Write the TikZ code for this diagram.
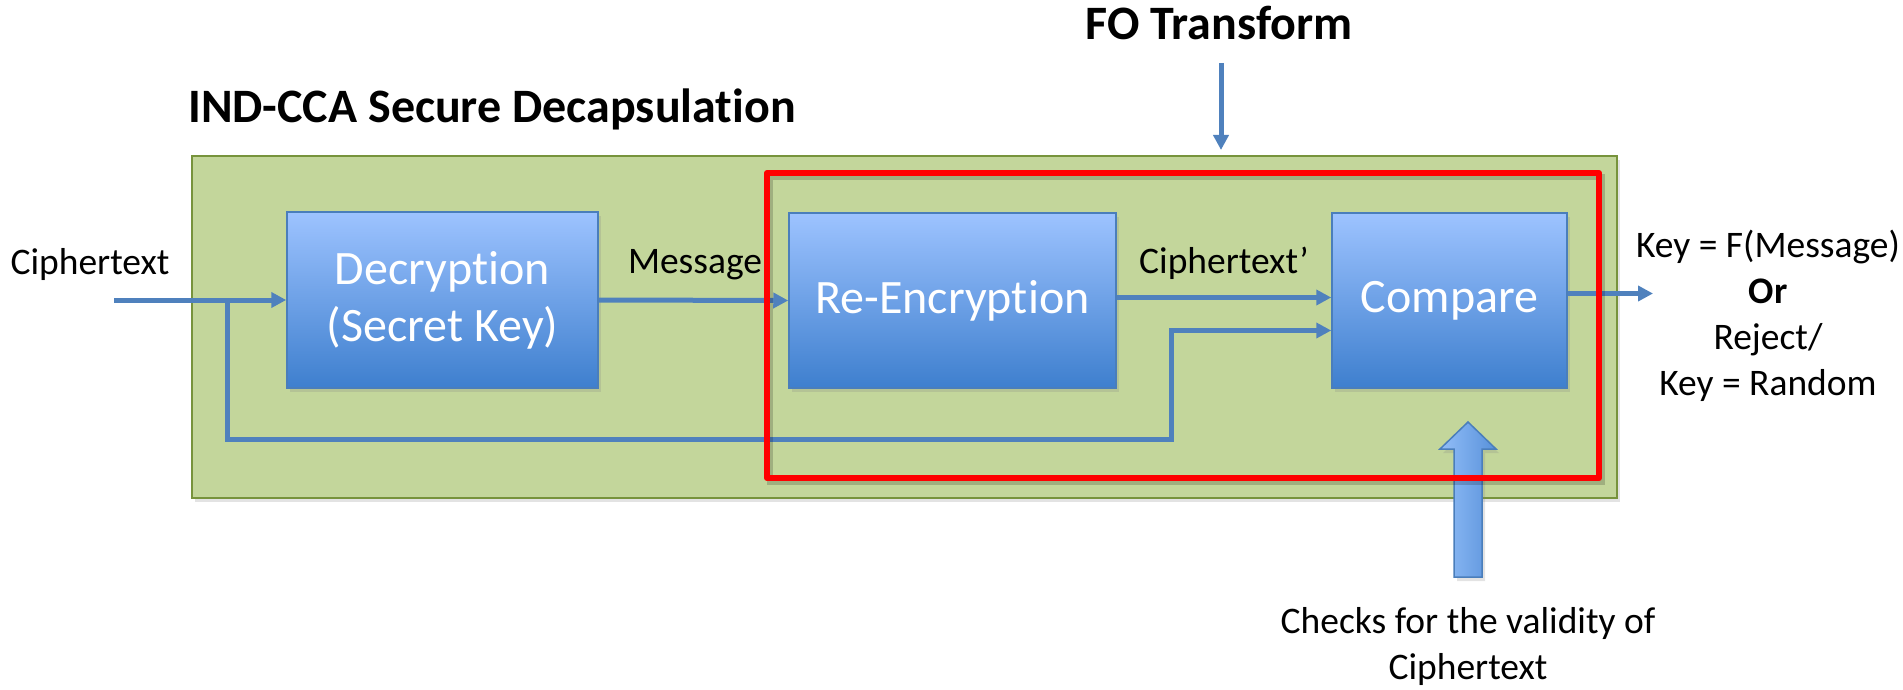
\documentclass[tikz,border=0pt]{standalone}
\usepackage{fontspec}
\setmainfont{Carlito}[Ligatures=NoCommon]
\usetikzlibrary{arrows.meta,shadows,calc}

\definecolor{panelfill}{RGB}{195,214,155}
\definecolor{paneledge}{RGB}{119,147,60}
\definecolor{flowblue}{RGB}{79,129,189}
\definecolor{boxtop}{RGB}{157,195,255}
\definecolor{boxmid}{RGB}{128,176,240}
\definecolor{boxbot}{RGB}{62,127,206}
\definecolor{boxedge}{RGB}{74,126,187}
\definecolor{hintleft}{RGB}{146,190,248}
\definecolor{hintright}{RGB}{88,145,218}

\begin{document}
\begin{tikzpicture}[x=1pt,y=-1pt,
  softshadow/.style={drop shadow={opacity=0.22,shadow xshift=3pt,shadow yshift=-4pt}},
  panel/.style={fill=panelfill,draw=paneledge,line width=2pt,softshadow},
  stage/.style={rectangle,draw=boxedge,line width=1.5pt,
    top color=boxtop,middle color=boxmid,bottom color=boxbot,
    text=white,font=\fontsize{48}{57}\selectfont,align=center,
    inner sep=0pt,softshadow},
  flow/.style={draw=flowblue,line width=5pt,
    -{Triangle[length=15pt,width=15pt]}},
  redframe/.style={draw=red,line width=6pt,line join=round,
    preaction={draw=black,draw opacity=0.18,line width=6pt,
      transform canvas={shift={(2.5pt,-3.5pt)}}}},
  hint/.style={draw=boxedge,line width=1.5pt,left color=hintleft,right color=hintright,softshadow},
  caption/.style={inner sep=0pt,font=\fontsize{37.5}{46}\selectfont},
  heading/.style={inner sep=0pt,font=\bfseries\fontsize{48}{57}\selectfont}
]
\useasboundingbox (0,0) rectangle (1903,690);

% decapsulation panel
\path[panel] (192,156) rectangle (1617,498);

% processing stages
\node[stage,minimum width=311pt,minimum height=176pt] (dec) at (442.5,300) {Decryption\\(Secret Key)};
\node[stage,minimum width=327pt,minimum height=175pt] (enc) at (952.5,300.5) {Re-Encryption};
\node[stage,minimum width=235pt,minimum height=175pt] (cmp) at (1449.5,300.5) {Compare};

% connector end points
\coordinate (src) at (114,300);
\coordinate (tap) at (227,300);
\coordinate (low) at (1171,439);
\coordinate (outTip) at (1653,293.5);
\coordinate (foTail) at (1221,63);
\coordinate (foTip) at (1221,150);

% data flow
\draw[flow] (src) -- (dec.west);
\draw[flow] (dec.east) -- (enc.west);
\draw[flow] ($(enc.east)+(0,-3)$) -- ($(cmp.west)+(0,-3)$);
\draw[flow] (tap) |- (low) |- ($(cmp.west)+(0,30)$);
\draw[flow] ($(cmp.east)+(0,-7)$) -- (outTip);
\draw[flow] (foTail) -- (foTip);

% validity hint arrow
\path[hint] (1454,577) -- (1454,449) -- (1440,449) -- (1468,422) -- (1496,449) -- (1482,449) -- (1482,577) -- cycle;

% FO transform frame
\draw[redframe] (767,173) rectangle (1599,478);

% labels
\node[heading,anchor=base west] (dcap) at (188,123) {IND-CCA Secure Decapsulation};
\node[heading,anchor=base] (fo) at (1219,40) {FO Transform};
\node[caption,anchor=base] (ctIn) at (90,274) {Ciphertext};
\node[caption,anchor=base] (msg) at (695,273) {Message};
\node[caption,anchor=base] (ctOut) at (1224,273) {Ciphertext’};
\node[caption,align=center] (res) at (1768,316) {Key = F(Message)\\\textbf{Or}\\Reject/\\Key = Random};
\node[caption,align=center] (chk) at (1468,646) {Checks for the validity of\\Ciphertext};
\end{tikzpicture}
\end{document}
